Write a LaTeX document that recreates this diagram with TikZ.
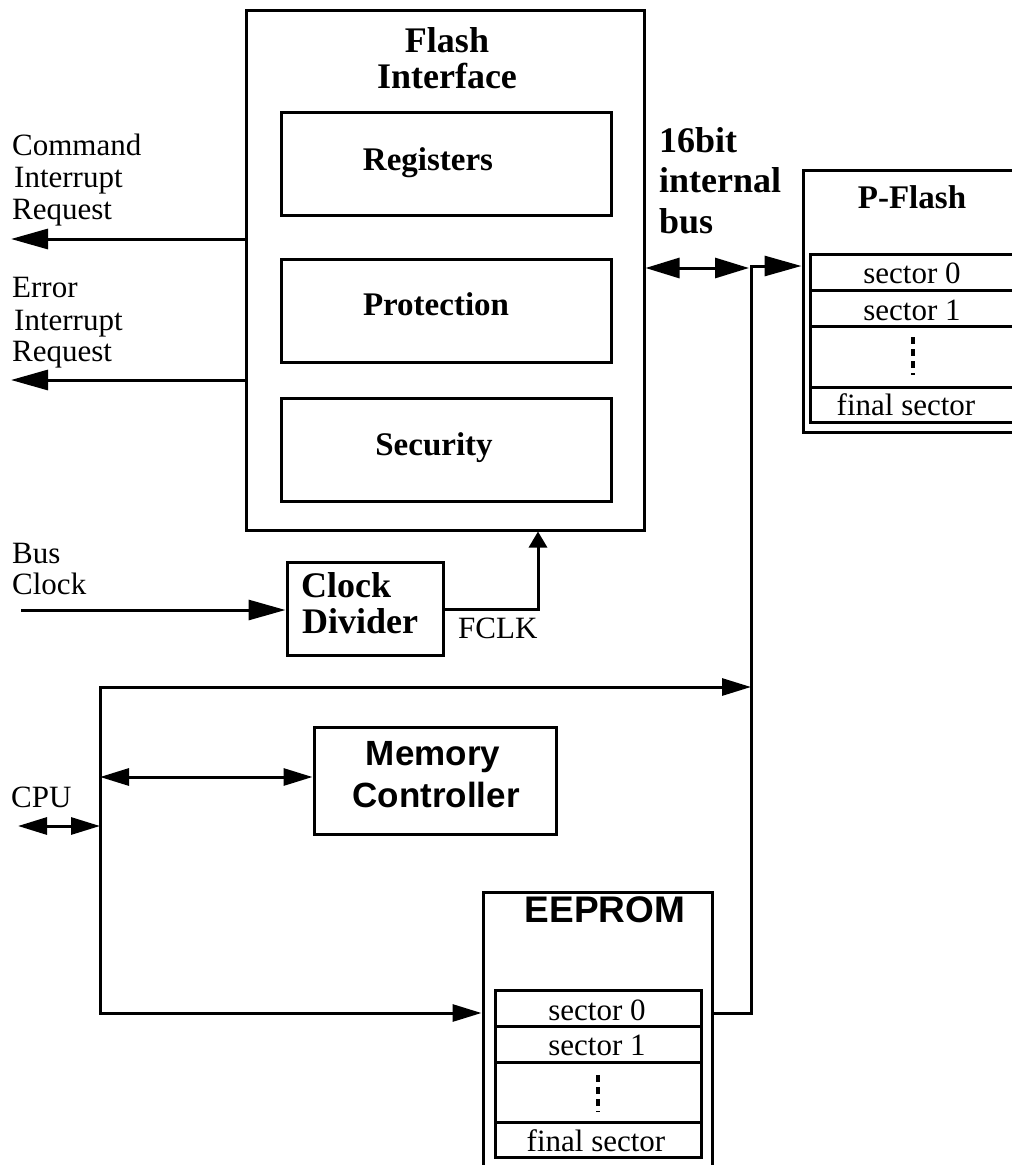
\documentclass[tikz,border=0pt]{standalone}
\usepackage{fontspec}
\setmainfont{Liberation Serif}
\newfontfamily\arialfont{Liberation Sans}
\usetikzlibrary{arrows.meta}
\tikzset{
  box/.style={draw, line width=3pt, inner sep=0pt},
  conn/.style={line width=3pt},
  bigtip/.style={-{Triangle[length=37pt,width=20pt]}},
  bigtips/.style={{Triangle[length=34pt,width=20pt]}-{Triangle[length=34pt,width=20pt]}},
  midtip/.style={-{Triangle[length=29pt,width=17pt]}},
  midtips/.style={{Triangle[length=29pt,width=17pt]}-{Triangle[length=29pt,width=17pt]}},
  smalltip/.style={-{Triangle[length=16pt,width=18pt]}},
  dots/.style={line width=3.5pt, dash pattern=on 7pt off 5pt},
  lab/.style={anchor=base west, inner sep=0pt, font=\fontsize{31}{32}\selectfont},
  labc/.style={anchor=base, inner sep=0pt, font=\fontsize{31}{32}\selectfont},
  bt/.style={anchor=base, inner sep=0pt, font=\fontsize{33}{34}\selectfont\bfseries},
  btw/.style={anchor=base west, inner sep=0pt, font=\fontsize{36}{37}\selectfont\bfseries},
  ttl/.style={anchor=base, inner sep=0pt, font=\fontsize{36}{37}\selectfont\bfseries},
  sb/.style={anchor=base, inner sep=0pt, font=\arialfont\fontsize{35}{36}\selectfont\bfseries},
}
\begin{document}
\begin{tikzpicture}[x=1pt,y=-1pt]
\useasboundingbox (0,0) rectangle (1012,1165);
\clip (0,0) rectangle (1012,1165);

% Flash interface
\node[box, minimum width=398pt, minimum height=520pt] (fi) at (445,270) {};
\node[ttl] (fit1) at (447,52) {Flash};
\node[ttl] (fit2) at (447,88) {Interface};
\node[box, minimum width=330pt, minimum height=103pt] (reg) at (446,163.5) {};
\node[bt] (regt) at (428,170) {Registers};
\node[box, minimum width=330pt, minimum height=103pt] (prot) at (446,310.5) {};
\node[bt] (prott) at (436,315) {Protection};
\node[box, minimum width=330pt, minimum height=103pt] (sec) at (446,449.5) {};
\node[bt] (sect) at (434,455) {Security};

% left labels
\node[lab] (c1) at (12,155) {Command};
\node[lab] (c2) at (14,187) {Interrupt};
\node[lab] (c3) at (12,219) {Request};
\node[lab] (e1) at (12,297) {Error};
\node[lab] (e2) at (14,330) {Interrupt};
\node[lab] (e3) at (12,361) {Request};
\node[lab] (b1) at (12,563) {Bus};
\node[lab] (b2) at (12,594) {Clock};
\node[lab] (cpu) at (11,807) {CPU};

% clock divider
\node[box, minimum width=156pt, minimum height=93pt] (cd) at (365,608.5) {};
\node[btw] (cdt1) at (301,597) {Clock};
\node[btw] (cdt2) at (302,633) {Divider};
\node[lab] (fclk) at (458,638) {FCLK};

% memory controller
\node[box, minimum width=242pt, minimum height=107pt] (mc) at (435,780.5) {};
\node[sb] (mct1) at (433,765) {Memory};
\node[sb] (mct2) at (436,807) {Controller};

% 16bit internal bus label
\node[btw] (ib1) at (659,152) {16bit};
\node[btw] (ib2) at (659,192) {internal};
\node[btw] (ib3) at (659,233) {bus};

% P-Flash
\node[box, minimum width=227pt, minimum height=262pt] (pf) at (916.5,301) {};
\node[bt] (pft) at (912,208) {P-Flash};
\node[box, minimum width=220pt, minimum height=36pt] (pfs0) at (920,272) {};
\node[box, minimum width=220pt, minimum height=36pt] (pfs1) at (920,308) {};
\node[box, minimum width=220pt, minimum height=61pt] (pfd) at (920,356.5) {};
\node[box, minimum width=220pt, minimum height=35pt] (pff) at (920,404.5) {};
\node[labc] (pfs0t) at (912,283) {sector 0};
\node[labc] (pfs1t) at (912,320) {sector 1};
\node[labc] (pfft) at (906,415) {final sector};
\draw[dots] (913,337) -- (913,375);

% EEPROM
\node[box, minimum width=229pt, minimum height=320pt] (ee) at (597.5,1052) {};
\node[sb, font=\arialfont\fontsize{37}{38}\selectfont\bfseries] (eet) at (605,922) {EEPROM};
\node[box, minimum width=206pt, minimum height=36pt] (ees0) at (598,1008) {};
\node[box, minimum width=206pt, minimum height=36pt] (ees1) at (598,1044) {};
\node[box, minimum width=206pt, minimum height=60pt] (eed) at (598,1092) {};
\node[box, minimum width=206pt, minimum height=35pt] (eef) at (598,1139.5) {};
\node[labc] (ees0t) at (597,1020) {sector 0};
\node[labc] (ees1t) at (597,1055) {sector 1};
\node[labc] (eeft) at (596,1151) {final sector};
\draw[dots] (598,1075) -- (598,1112);

% coordinates
\coordinate (cmdend) at (11,239);
\coordinate (errend) at (11,380);
\coordinate (bcstart) at (21,610);
\coordinate (fclkc) at (538,609);
\coordinate (bustop) at (751,266);
\coordinate (busbot) at (751,1013);
\coordinate (busarr) at (749,268);
\coordinate (cputop) at (100,687);
\coordinate (cpubot) at (100,1013);
\coordinate (meml) at (100,777);
\coordinate (cpul) at (18,826);
\coordinate (cpur) at (100,826);

% connectors
\draw[conn, bigtip] (cmdend -| fi.west) -- (cmdend);
\draw[conn, bigtip] (errend -| fi.west) -- (errend);
\draw[conn, bigtip] (bcstart) -- (bcstart -| cd.west);
\draw[conn, smalltip] (cd.east |- fclkc) -- (fclkc) -- (fclkc |- fi.south);
\draw[conn, line cap=rect] (bustop) -- (busbot);
\draw[conn, bigtip] (bustop) -- (bustop -| pf.west);
\draw[conn, bigtips] (busarr -| fi.east) -- (busarr);
\draw[conn, midtip, line cap=rect] (cpubot) -- (cputop) -- (cputop -| bustop);
\draw[conn, midtip] (cpubot) -- (cpubot -| ee.west);
\draw[conn] (ee.east |- busbot) -- (busbot);
\draw[conn, midtips] (meml) -- (meml -| mc.west);
\draw[conn, midtips] (cpul) -- (cpur);
\end{tikzpicture}
\end{document}
